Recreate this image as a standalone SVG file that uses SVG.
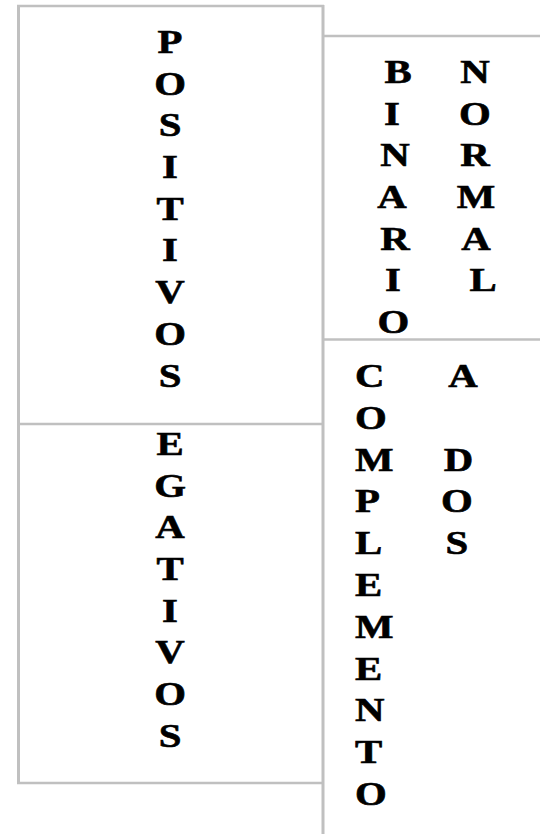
<svg xmlns="http://www.w3.org/2000/svg" width="540" height="834" viewBox="0 0 540 834">
<style>
.ln{stroke:#c0c0c0;fill:none}
.v{stroke-width:3}
.h{stroke-width:2.5}
text{font-family:"Liberation Serif","Times New Roman",serif;font-weight:bold;font-size:34px;fill:#000;stroke:#000;stroke-width:0.6;text-anchor:middle}
.st{text-anchor:start}
</style>
<rect width="540" height="834" fill="#fff"/>
<g id="connectors">
<line class="ln v" x1="18.5" y1="6" x2="18.5" y2="783"/>
<line class="ln v" x1="323" y1="5" x2="323" y2="834"/>
<line class="ln h" x1="17" y1="6" x2="324" y2="6"/>
<line class="ln h" x1="17" y1="783" x2="324" y2="783"/>
<line class="ln h" x1="18.5" y1="424" x2="323" y2="424"/>
<line class="ln h" x1="323" y1="36" x2="540" y2="36"/>
<line class="ln h" x1="323" y1="339.5" x2="540" y2="339.5"/>
</g>
<g transform="scale(1.2 1)">
<g id="positivos">
<text x="141.7" y="53">P</text>
<text x="141.7" y="94.7">O</text>
<text x="141.7" y="136.4">S</text>
<text x="141.7" y="178.1">I</text>
<text x="141.7" y="219.8">T</text>
<text x="141.7" y="261.5">I</text>
<text x="141.7" y="303.2">V</text>
<text x="141.7" y="344.9">O</text>
<text x="141.7" y="386.6">S</text>
</g>
<g id="negativos">
<text x="141.7" y="455">E</text>
<text x="141.7" y="496.7">G</text>
<text x="141.7" y="538.4">A</text>
<text x="141.7" y="580.1">T</text>
<text x="141.7" y="621.8">I</text>
<text x="141.7" y="663.5">V</text>
<text x="141.7" y="705.2">O</text>
<text x="141.7" y="746.9">S</text>
</g>
<g id="binario">
<text x="331.7" y="83">B</text>
<text x="326.7" y="124.7">I</text>
<text x="329.2" y="166.4">N</text>
<text x="326.7" y="208.1">A</text>
<text x="329.2" y="249.8">R</text>
<text x="327.5" y="291.5">I</text>
<text x="327.9" y="333.2">O</text>
</g>
<g id="normal">
<text x="395.8" y="83">N</text>
<text x="395.8" y="124.7">O</text>
<text x="395.8" y="166.4">R</text>
<text x="396.7" y="208.1">M</text>
<text x="396.7" y="249.8">A</text>
<text x="402.5" y="291.5">L</text>
</g>
<g id="complemento">
<text class="st" x="295.8" y="387">C</text>
<text class="st" x="295.8" y="428.8">O</text>
<text class="st" x="295.8" y="470.6">M</text>
<text class="st" x="295.8" y="512.4">P</text>
<text class="st" x="295.8" y="554.2">L</text>
<text class="st" x="295.8" y="596">E</text>
<text class="st" x="295.8" y="637.8">M</text>
<text class="st" x="295.8" y="679.6">E</text>
<text class="st" x="295.8" y="721.4">N</text>
<text class="st" x="295.8" y="763.2">T</text>
<text class="st" x="295.8" y="805">O</text>
</g>
<g id="a-dos">
<text x="385.8" y="387">A</text>
<text x="382.1" y="470.6">D</text>
<text x="380.8" y="512.4">O</text>
<text x="380.8" y="554.2">S</text>
</g>
</g>
</svg>
